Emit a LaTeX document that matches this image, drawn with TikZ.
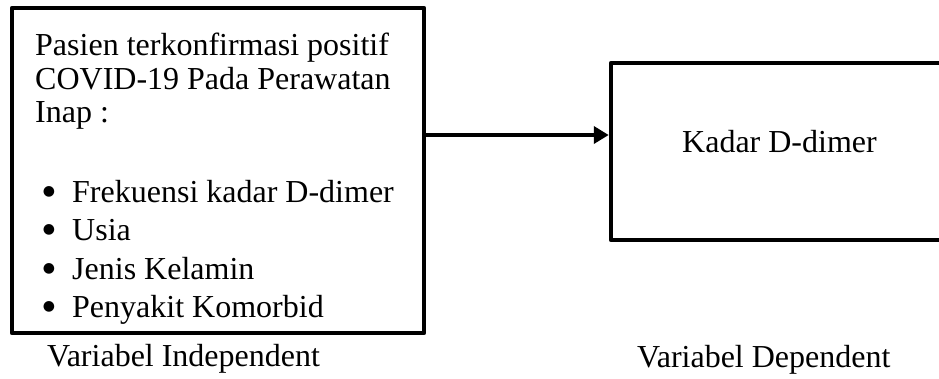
\documentclass[tikz,border=0pt]{standalone}
\usepackage{fontspec}
\setmainfont{Liberation Serif}
\newfontfamily\symfont{DejaVu Sans}
\usetikzlibrary{arrows.meta}
\begin{document}
\begin{tikzpicture}[x=1pt,y=-1pt,
  every node/.style={font=\fontsize{32}{38}\selectfont, inner sep=0pt},
  txt/.style={anchor=base west},
  bul/.style={anchor=center, font=\symfont\fontsize{14}{14}\selectfont},
  boxst/.style={draw, line width=4.5pt, line join=round},
  conn/.style={line width=4.5pt, -{Triangle[length=15pt,width=17pt]}}]
\useasboundingbox (0,0) rectangle (939,378);
\clip (0,0) rectangle (939,378);
\node[boxst, minimum width=412pt, minimum height=325pt] (indep) at (218,170.5) {};
\node[boxst, minimum width=359pt, minimum height=177pt] (dep) at (790.5,151.5) {};
\coordinate (ay) at (0,135);
\draw[conn] (indep.east |- ay) -- (dep.west |- ay);
\node[txt] (l1) at (35,55) {Pasien terkonfirmasi positif};
\node[txt] (l2) at (35,89) {COVID-19 Pada Perawatan};
\node[txt] (l3) at (35,122) {Inap :};
\node[bul] (b1) at (49,192) {●};
\node[txt] (t1) at (72,202) {Frekuensi kadar D-dimer};
\node[bul] (b2) at (49,230) {●};
\node[txt] (t2) at (72,240) {Usia};
\node[bul] (b3) at (49,269) {●};
\node[txt] (t3) at (72,279) {Jenis Kelamin};
\node[bul] (b4) at (49,307) {●};
\node[txt] (t4) at (72,317) {Penyakit Komorbid};
\node[txt] (kd) at (682,152) {Kadar D-dimer};
\node[txt] (vi) at (47,366) {Variabel Independent};
\node[txt] (vd) at (637,367) {Variabel Dependent};
\end{tikzpicture}
\end{document}
